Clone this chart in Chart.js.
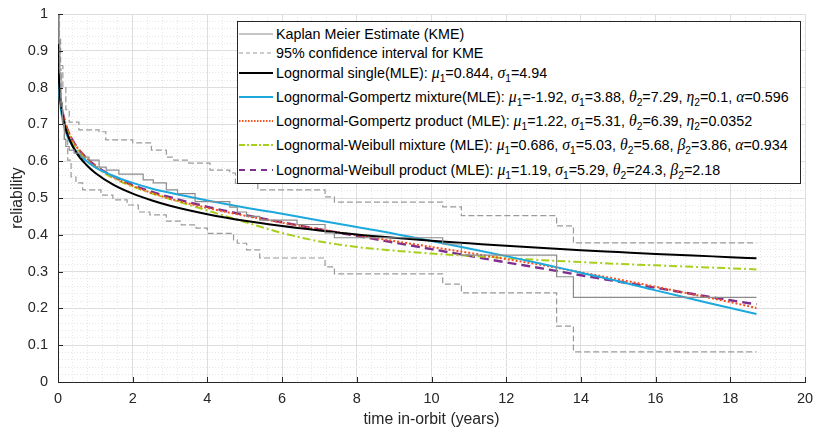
<!DOCTYPE html>
<html>
<head>
<meta charset="utf-8">
<title>Reliability vs time in-orbit</title>
<script src="https://cdn.jsdelivr.net/npm/chart.js@4.4.0/dist/chart.umd.min.js"></script>
<style>
  html, body { margin: 0; padding: 0; background: #fff; }
  #wrap { position: relative; width: 813px; height: 431px; }
  #legend {
    position: absolute; left: 237px; top: 21px; width: 564px; height: 163px;
    box-sizing: border-box; border: 1px solid #262626; background: #fff; padding-top: 2px;
    font-family: "Liberation Sans", Arial, sans-serif; font-size: 14.3px; color: #000;
  }
  .row { display: flex; align-items: center; white-space: nowrap; line-height: 16px; }
  .row svg { flex: none; margin-left: 1px; margin-right: 3px; }
  .g { font-family: "Liberation Serif", serif; font-style: italic; font-size: 110%; }
  sub { font-size: 72%; vertical-align: -0.4em; line-height: 0; }
</style>
</head>
<body>
<div id="wrap">
  <canvas id="relChart" width="813" height="431"></canvas>
  <div id="legend"></div>
</div>
<script>
// Axis ticks
const xTickValues = [0, 2, 4, 6, 8, 10, 12, 14, 16, 18, 20];
const yTickValues = [0, 0.1, 0.2, 0.3, 0.4, 0.5, 0.6, 0.7, 0.8, 0.9, 1];

// Kaplan Meier estimate (steps, value holds from each time onwards)
const kmTimes  = [0, 0.02, 0.05, 0.08, 0.12, 0.17, 0.21, 0.3, 0.43, 0.62, 0.83, 1.1, 1.29, 1.63, 2.28, 2.55, 2.9, 3.2, 3.67, 4.6, 4.8, 5.05, 5.4, 6.4, 7.15, 7.4, 10.3, 10.8, 13.35, 13.8, 18.7];
const kmValues = [1, 0.92, 0.84, 0.76, 0.70, 0.66, 0.64, 0.63, 0.622, 0.611, 0.603, 0.584, 0.576, 0.565, 0.549, 0.541, 0.522, 0.512, 0.49, 0.475, 0.462, 0.45, 0.44, 0.428, 0.405, 0.392, 0.375, 0.345, 0.286, 0.23, 0.23];

// 95% confidence interval for KME
const ciUpperTimes  = [0, 0.03, 0.07, 0.13, 0.21, 0.3, 0.56, 1.1, 1.28, 2.0, 2.5, 2.9, 3.1, 3.5, 4.07, 4.6, 4.75, 5.35, 7.15, 7.4, 10.3, 10.8, 13.35, 13.8, 18.7];
const ciUpperValues = [1, 0.94, 0.86, 0.80, 0.74, 0.706, 0.685, 0.68, 0.658, 0.65, 0.63, 0.611, 0.603, 0.595, 0.576, 0.568, 0.54, 0.522, 0.503, 0.489, 0.476, 0.452, 0.424, 0.378, 0.378];
const ciLowerTimes  = [0, 0.04, 0.08, 0.13, 0.17, 0.26, 0.35, 0.48, 0.66, 1.15, 1.47, 1.85, 2.15, 2.46, 2.9, 3.3, 3.7, 4.0, 4.7, 4.8, 5.05, 5.4, 7.15, 7.4, 10.3, 10.8, 13.35, 13.8, 18.7];
const ciLowerValues = [1, 0.85, 0.74, 0.70, 0.657, 0.603, 0.557, 0.541, 0.522, 0.508, 0.495, 0.481, 0.462, 0.454, 0.437, 0.427, 0.418, 0.404, 0.386, 0.377, 0.359, 0.337, 0.313, 0.294, 0.266, 0.242, 0.152, 0.082, 0.082];

// Fitted models, read at these times
const fitTimes   = [0, 0.005, 0.02, 0.05, 0.1, 0.2, 0.3, 0.5, 0.75, 1, 1.5, 2, 2.5, 3, 4, 5, 6, 7, 8, 9, 10, 11, 12, 13, 14, 15, 16, 17, 18, 18.7];
const lnSingle   = [1, 0.893, 0.832, 0.781, 0.738, 0.690, 0.661, 0.622, 0.591, 0.568, 0.535, 0.512, 0.494, 0.479, 0.456, 0.438, 0.424, 0.412, 0.401, 0.392, 0.384, 0.377, 0.370, 0.364, 0.358, 0.353, 0.348, 0.344, 0.339, 0.336];
const lnGompMix  = [1, 0.886, 0.819, 0.767, 0.725, 0.682, 0.657, 0.625, 0.601, 0.583, 0.559, 0.541, 0.526, 0.514, 0.493, 0.474, 0.457, 0.439, 0.421, 0.403, 0.383, 0.363, 0.342, 0.320, 0.297, 0.274, 0.249, 0.225, 0.201, 0.185];
const lnGompProd = [1, 0.890, 0.833, 0.786, 0.746, 0.703, 0.676, 0.639, 0.610, 0.587, 0.556, 0.533, 0.514, 0.498, 0.473, 0.452, 0.433, 0.415, 0.399, 0.383, 0.367, 0.351, 0.334, 0.317, 0.298, 0.279, 0.259, 0.238, 0.217, 0.201];
const lnWeibMix  = [1, 0.891, 0.832, 0.783, 0.742, 0.697, 0.670, 0.634, 0.605, 0.584, 0.553, 0.531, 0.513, 0.497, 0.466, 0.435, 0.405, 0.382, 0.367, 0.357, 0.349, 0.343, 0.337, 0.331, 0.326, 0.321, 0.317, 0.313, 0.309, 0.306];
const lnWeibProd = [1, 0.890, 0.833, 0.786, 0.746, 0.702, 0.675, 0.639, 0.610, 0.588, 0.558, 0.535, 0.517, 0.502, 0.476, 0.454, 0.434, 0.415, 0.397, 0.379, 0.361, 0.343, 0.325, 0.308, 0.290, 0.273, 0.256, 0.239, 0.222, 0.211];

const AXIS_COLOR = '#262626';
const FONT = '"Liberation Sans", Arial, sans-serif';

function toPoints(xs, ys) {
    return xs.map((x, i) => ({ x: x, y: ys[i] }));
}

function isOnList(v, list) {
    return list.some(t => Math.abs(t - v) < 1e-6);
}

// legend rows: label html, line style
const legendRows = [
    { html: 'Kaplan Meier Estimate (KME)', color: '#8c8c8c', width: 1.2, dash: '' },
    { html: '95% confidence interval for KME', color: '#9a9a9a', width: 1.2, dash: '4 3' },
    { html: 'Lognormal single(MLE): <span class="g">μ</span><sub>1</sub>=0.844, <span class="g">σ</span><sub>1</sub>=4.94', color: '#000000', width: 2, dash: '' },
    { html: 'Lognormal-Gompertz mixture(MLE): <span class="g">μ</span><sub>1</sub>=-1.92, <span class="g">σ</span><sub>1</sub>=3.88, <span class="g">θ</span><sub>2</sub>=7.29, <span class="g">η</span><sub>2</sub>=0.1, <span class="g">α</span>=0.596', color: '#1ba9dd', width: 2, dash: '' },
    { html: 'Lognormal-Gompertz product (MLE): <span class="g">μ</span><sub>1</sub>=1.22, <span class="g">σ</span><sub>1</sub>=5.31, <span class="g">θ</span><sub>2</sub>=6.39, <span class="g">η</span><sub>2</sub>=0.0352', color: '#f5501e', width: 2, dash: '1.5 1.5' },
    { html: 'Lognormal-Weibull mixture (MLE): <span class="g">μ</span><sub>1</sub>=0.686, <span class="g">σ</span><sub>1</sub>=5.03, <span class="g">θ</span><sub>2</sub>=5.68, <span class="g">β</span><sub>2</sub>=3.86, <span class="g">α</span>=0.934', color: '#a8cf1c', width: 2, dash: '6 2 2 2' },
    { html: 'Lognormal-Weibull product (MLE): <span class="g">μ</span><sub>1</sub>=1.19, <span class="g">σ</span><sub>1</sub>=5.29, <span class="g">θ</span><sub>2</sub>=24.3, <span class="g">β</span><sub>2</sub>=2.18', color: '#7e2f8e', width: 2.2, dash: '6 5' }
];
const rowHeights = [19, 19, 22.5, 24, 24, 25, 24];

function buildLegend() {
    const box = document.getElementById('legend');
    legendRows.forEach((r, i) => {
        const row = document.createElement('div');
        row.className = 'row';
        row.style.height = rowHeights[i] + 'px';
        row.innerHTML =
            '<svg width="34" height="10"><line x1="0" y1="5" x2="34" y2="5" stroke="' + r.color +
            '" stroke-width="' + r.width + '"' + (r.dash ? ' stroke-dasharray="' + r.dash + '"' : '') +
            '/></svg><span>' + r.html + '</span>';
        box.appendChild(row);
    });
}

// MATLAB style inward tick marks on the left and bottom axes
const innerTicks = {
    id: 'innerTicks',
    afterDraw(chart) {
        const { ctx, chartArea: a, scales: { x, y } } = chart;
        ctx.save();
        ctx.strokeStyle = AXIS_COLOR;
        ctx.lineWidth = 1;
        ctx.beginPath();
        xTickValues.forEach(t => {
            const px = Math.round(x.getPixelForValue(t)) + 0.5;
            ctx.moveTo(px, a.bottom);
            ctx.lineTo(px, a.bottom - 5);
        });
        yTickValues.forEach(t => {
            const py = Math.round(y.getPixelForValue(t)) + 0.5;
            ctx.moveTo(a.left, py);
            ctx.lineTo(a.left + 5, py);
        });
        ctx.stroke();
        ctx.restore();
    }
};

function gridColor(list) {
    return c => (c.tick && isOnList(c.tick.value, list)) ? '#dedede' : '#e6e6e6';
}
function gridDash(list) {
    return c => (c.tick && !isOnList(c.tick.value, list)) ? [1, 2] : [];
}

function lineDataset(label, xs, ys, color, width, dash, stepped) {
    return {
        label: label,
        data: toPoints(xs, ys),
        borderColor: color,
        backgroundColor: color,
        borderWidth: width,
        borderDash: dash,
        pointRadius: 0,
        fill: false,
        stepped: stepped ? 'before' : false,
        cubicInterpolationMode: stepped ? 'default' : 'monotone'
    };
}

document.addEventListener('DOMContentLoaded', () => {
    buildLegend();
    const ctx = document.getElementById('relChart').getContext('2d');

    new Chart(ctx, {
        type: 'line',
        data: {
            datasets: [
                lineDataset('Kaplan Meier Estimate (KME)', kmTimes, kmValues, '#8c8c8c', 1.2, [], true),
                lineDataset('95% confidence interval for KME', ciUpperTimes, ciUpperValues, '#9a9a9a', 1.2, [6, 3], true),
                lineDataset('95% confidence interval for KME (lower)', ciLowerTimes, ciLowerValues, '#9a9a9a', 1.2, [6, 3], true),
                lineDataset('Lognormal single(MLE)', fitTimes, lnSingle, '#000000', 2, [], false),
                lineDataset('Lognormal-Gompertz mixture(MLE)', fitTimes, lnGompMix, '#1ba9dd', 2, [], false),
                lineDataset('Lognormal-Gompertz product (MLE)', fitTimes, lnGompProd, '#f5501e', 2, [2, 2], false),
                lineDataset('Lognormal-Weibull mixture (MLE)', fitTimes, lnWeibMix, '#a8cf1c', 2, [8, 3, 2, 3], false),
                lineDataset('Lognormal-Weibull product (MLE)', fitTimes, lnWeibProd, '#7e2f8e', 2.4, [9, 5], false)
            ]
        },
        options: {
            responsive: false,
            animation: false,
            layout: { padding: { left: 0, right: 8, top: 14, bottom: 0 } },
            plugins: {
                legend: { display: false },
                tooltip: { enabled: false }
            },
            scales: {
                x: {
                    type: 'linear',
                    min: 0,
                    max: 20,
                    ticks: {
                        stepSize: 0.4,
                        maxTicksLimit: 60,
                        autoSkip: false,
                        maxRotation: 0,
                        padding: 8,
                        color: AXIS_COLOR,
                        font: { family: FONT, size: 14.5 },
                        callback: v => isOnList(v, xTickValues) ? String(Math.round(v)) : ''
                    },
                    grid: { color: gridColor(xTickValues), lineWidth: 1, drawTicks: false },
                    border: { display: true, color: AXIS_COLOR, width: 1, dash: gridDash(xTickValues) },
                    title: {
                        display: true,
                        text: 'time in-orbit (years)',
                        color: AXIS_COLOR,
                        font: { family: FONT, size: 15.8 },
                        padding: { top: 0, bottom: 2 }
                    },
                    afterFit: s => { s.height = 49; s.paddingLeft = 0; s.paddingRight = 0; }
                },
                y: {
                    type: 'linear',
                    min: 0,
                    max: 1,
                    ticks: {
                        stepSize: 0.02,
                        maxTicksLimit: 60,
                        autoSkip: false,
                        padding: 10,
                        color: AXIS_COLOR,
                        font: { family: FONT, size: 14.5 },
                        callback: v => isOnList(v, yTickValues) ? String(Math.round(v * 10) / 10) : ''
                    },
                    grid: { color: gridColor(yTickValues), lineWidth: 1, drawTicks: false },
                    border: { display: true, color: AXIS_COLOR, width: 1, dash: gridDash(yTickValues) },
                    title: {
                        display: true,
                        text: 'reliability',
                        color: AXIS_COLOR,
                        font: { family: FONT, size: 15.8 },
                        padding: { top: 8, bottom: 0 }
                    },
                    afterFit: s => { s.width = 58; s.paddingTop = 0; s.paddingBottom = 0; }
                }
            }
        },
        plugins: [innerTicks]
    });
});
</script>
</body>
</html>
